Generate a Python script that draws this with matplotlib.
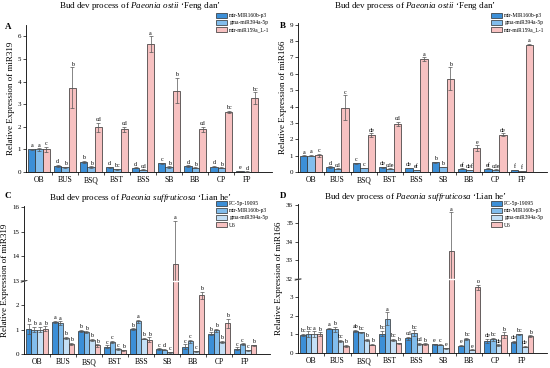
import matplotlib
matplotlib.use("Agg")
import matplotlib.pyplot as plt
import numpy as np

plt.rcParams['font.family'] = ['Liberation Serif', 'DejaVu Serif']
plt.rcParams['mathtext.fontset'] = 'custom'
plt.rcParams['mathtext.rm'] = 'Liberation Serif'
plt.rcParams['mathtext.it'] = 'Liberation Serif:italic'

stages = ['OB', 'BUS', 'BSQ', 'BST', 'BSS', 'SB', 'BB', 'CP', 'FP']

# panel A - miR319, 'Feng dan'
a_names = ['mir-MIR160b-p3', 'gma-miR394a-5p', 'mtr-miR159a_L-1']
a_vals = [[1.0, 0.28, 0.45, 0.2, 0.18, 0.38, 0.27, 0.23, 0.05],
          [1.0, 0.2, 0.22, 0.13, 0.1, 0.22, 0.18, 0.18, 0.02],
          [1.0, 3.73, 1.98, 1.88, 5.65, 3.6, 1.88, 2.65, 3.27]]
a_errs = [[0.02, 0.04, 0.03, 0.02, 0.02, 0.04, 0.03, 0.03, 0.01],
          [0.05, 0.03, 0.03, 0.02, 0.02, 0.03, 0.02, 0.02, 0.01],
          [0.1, 0.9, 0.2, 0.12, 0.35, 0.55, 0.12, 0.04, 0.25]]
a_labs = [['a', 'd', 'b', 'd', 'd', 'c', 'd', 'd', 'e'],
          ['a', 'b', 'b', 'bc', 'cd', 'b', 'b', 'b', 'd'],
          ['c', 'b', 'cd', 'cd', 'a', 'b', 'cd', 'bc', 'bc']]

# panel B - miR166, 'Feng dan'
b_vals = [[1.0, 0.3, 0.52, 0.28, 0.25, 0.6, 0.2, 0.2, 0.12],
          [1.0, 0.2, 0.25, 0.2, 0.12, 0.3, 0.12, 0.15, 0.05],
          [1.02, 3.93, 2.25, 2.93, 6.9, 5.7, 1.45, 2.27, 7.78]]
b_errs = [[0.02, 0.04, 0.03, 0.03, 0.02, 0.03, 0.02, 0.02, 0.02],
          [0.04, 0.03, 0.02, 0.02, 0.02, 0.02, 0.02, 0.02, 0.01],
          [0.1, 0.75, 0.12, 0.15, 0.1, 0.7, 0.18, 0.1, 0.05]]
b_labs = [['a', 'd', 'c', 'de', 'de', 'b', 'ef', 'ef', 'f'],
          ['a', 'cd', 'c', 'cde', 'ef', 'b', 'def', 'cde', 'f'],
          ['c', 'c', 'de', 'cd', 'a', 'b', 'e', 'de', 'a']]

# panel C - miR319, 'Lian he'
c_names = ['PC-5p-19095', 'mtr-MIR160b-p3', 'gma-miR394a-5p', 'U6']
c_vals = [[1.03, 1.3, 0.95, 0.3, 1.02, 0.2, 0.3, 0.83, 0.22],
          [1.0, 1.25, 0.9, 0.5, 1.33, 0.18, 0.52, 0.97, 0.4],
          [1.0, 0.65, 0.58, 0.2, 0.63, 0.08, 0.12, 0.5, 0.15],
          [1.03, 0.42, 0.35, 0.15, 0.58, 13.68, 2.4, 1.25, 0.35]]
c_errs = [[0.2, 0.05, 0.05, 0.05, 0.03, 0.03, 0.1, 0.05, 0.05],
          [0.1, 0.08, 0.03, 0.05, 0.08, 0.02, 0.05, 0.06, 0.03],
          [0.1, 0.05, 0.03, 0.03, 0.03, 0.02, 0.02, 0.05, 0.02],
          [0.1, 0.05, 0.05, 0.03, 0.1, 1.75, 0.15, 0.18, 0.03]]
c_labs = [['b', 'a', 'b', 'c', 'b', 'c', 'c', 'b', 'c'],
          ['b', 'a', 'b', 'c', 'a', 'd', 'c', 'b', 'c'],
          ['a', 'b', 'b', 'c', 'b', 'c', 'c', 'b', 'c'],
          ['b', 'b', 'b', 'b', 'b', 'a', 'b', 'b', 'b']]

# panel D - miR166, 'Lian he'
d_vals = [[0.97, 1.32, 1.2, 1.05, 0.8, 0.48, 0.4, 0.65, 0.6],
          [1.02, 1.28, 1.13, 1.85, 1.07, 0.45, 0.77, 0.75, 1.0],
          [1.02, 0.65, 0.72, 0.7, 0.48, 0.25, 0.17, 0.42, 0.35],
          [1.02, 0.4, 0.45, 0.52, 0.47, 33.5, 3.55, 0.97, 0.9]]
d_errs = [[0.05, 0.05, 0.05, 0.15, 0.08, 0.03, 0.03, 0.1, 0.05],
          [0.15, 0.12, 0.03, 0.35, 0.15, 0.03, 0.05, 0.08, 0.05],
          [0.15, 0.05, 0.05, 0.05, 0.05, 0.03, 0.02, 0.05, 0.05],
          [0.1, 0.05, 0.03, 0.03, 0.05, 2.1, 0.15, 0.15, 0.05]]
d_labs = [['bc', 'a', 'ab', 'bc', 'cd', 'e', 'e', 'de', 'de'],
          ['bc', 'b', 'bc', 'a', 'bc', 'c', 'bc', 'bc', 'bc'],
          ['a', 'bc', 'b', 'bc', 'cd', 'e', 'e', 'de', 'de'],
          ['b', 'b', 'b', 'b', 'b', 'a', 'b', 'b', 'b']]

dark = '#3c8fd7'
mid = '#82bdec'
light = '#c4e0f6'
pink = '#f7c1c1'


def make_scale(lo, hi):
    gap = hi - lo
    def fwd(y):
        y = np.asarray(y, dtype=float)
        return np.where(y <= lo, y, np.where(y >= hi, y - gap, lo))
    def inv(t):
        t = np.asarray(t, dtype=float)
        return np.where(t <= lo, t, t + gap)
    return fwd, inv


def draw_panel(ax, vals, errs, labs, colors, names, ylabel, ymax, yticks,
               brk=None):
    n = len(vals)
    x = np.arange(len(stages))
    w = 0.85 / n
    if brk is not None:
        ax.set_yscale('function', functions=make_scale(*brk))
    for i in range(n):
        pos = x - 0.425 + w * (i + 0.5)
        ax.bar(pos, vals[i], w, color=colors[i], edgecolor='#2b2b2b',
               linewidth=0.5, label=names[i], zorder=2)
        ax.errorbar(pos, vals[i], yerr=errs[i], fmt='none', ecolor='#555555',
                    elinewidth=0.5, capsize=1.2, capthick=0.5, zorder=3)
        for j in range(len(stages)):
            ax.annotate(labs[i][j], (pos[j], vals[i][j] + errs[i][j]),
                        xytext=(0, 0.5), textcoords='offset points',
                        ha='center', va='bottom', fontsize=4.3, zorder=4)
    ax.set_xlim(-0.5, 8.95)
    ax.set_ylim(0, ymax)
    ax.set_yticks(yticks)
    ax.set_yticklabels([str(t) for t in yticks])
    ax.set_xticks(x)
    ax.set_xticklabels(stages)
    ax.set_xticks(x[:-1] + 0.5, minor=True)
    ax.tick_params(axis='x', which='major', length=0, labelsize=5.5, pad=3)
    ax.tick_params(axis='x', which='minor', length=2, width=0.5)
    ax.tick_params(axis='y', length=2, width=0.5, labelsize=5, pad=1.5)
    ax.spines['top'].set_visible(False)
    ax.spines['right'].set_visible(False)
    ax.spines['left'].set_linewidth(0.6)
    ax.spines['bottom'].set_linewidth(0.6)
    ax.set_ylabel(ylabel, fontsize=6.5, labelpad=2)
    if brk is not None:
        lo = brk[0]
        ax.axhspan(lo - 0.02, lo + 0.04, color='white', zorder=5)
        # small break marks on the axis
        tr = ax.get_yaxis_transform()
        for dy in (-0.01, 0.05):
            ax.plot([-0.012, 0.012], [lo + dy - 0.06, lo + dy + 0.06],
                    transform=tr, color='#333333', lw=0.5, clip_on=False,
                    zorder=6)


fig = plt.figure(figsize=(5.5, 3.68), dpi=100)
W, H = 550.0, 368.0


def add_axes(l, r, b, t):
    return fig.add_axes([l / W, 1 - b / H, (r - l) / W, (b - t) / H])


axA = add_axes(26, 272, 172, 25)
axB = add_axes(298, 547, 172, 23)
axC = add_axes(24, 270, 354, 206)
axD = add_axes(298, 547, 353, 204)

draw_panel(axA, a_vals, a_errs, a_labs, [dark, mid, pink], a_names,
           'Relative Expression of miR319', 6.5, [0, 1, 2, 3, 4, 5, 6])
draw_panel(axB, b_vals, b_errs, b_labs, [dark, mid, pink], a_names,
           'Relative Expression of miR166', 9.1, list(range(10)))
draw_panel(axC, c_vals, c_errs, c_labs, [dark, mid, light, pink], c_names,
           'Relative Expression of miR319', 16.05, [0, 1, 2, 13, 14, 15, 16],
           brk=(3, 13))
draw_panel(axD, d_vals, d_errs, d_labs, [dark, mid, light, pink], c_names,
           'Relative Expression of miR166', 36.05,
           [0, 1, 2, 3, 32, 33, 34, 35, 36], brk=(4, 32))

t1 = "Bud dev process of $\\mathit{Paeonia\\ ostii}$ \u2018Feng dan\u2019"
t2 = "Bud dev process of $\\mathit{Paeonia\\ suffruticosa}$ \u2018Lian he\u2019"
fig.text(140 / W, 1 - 6 / H, t1, ha='center', va='center', fontsize=6.5)
fig.text(415 / W, 1 - 6 / H, t1, ha='center', va='center', fontsize=6.5)
fig.text(140 / W, 1 - 198 / H, t2, ha='center', va='center', fontsize=6.5)
fig.text(415 / W, 1 - 197 / H, t2, ha='center', va='center', fontsize=6.5)

for lab, px, py in [('A', 8, 27), ('B', 283, 26), ('C', 8, 196), ('D', 283, 196)]:
    fig.text(px / W, 1 - py / H, lab, ha='center', va='center', fontsize=6.5,
             fontweight='bold')

for ax, lx, py in [(axA, 216, 13), (axB, 491, 13), (axC, 216, 201), (axD, 491, 201)]:
    ax.legend(loc='upper left', bbox_to_anchor=(lx / W, 1 - py / H),
              bbox_transform=fig.transFigure, frameon=False, fontsize=4,
              handlelength=2.0, handleheight=1.0, labelspacing=0.3,
              handletextpad=0.4, borderpad=0, borderaxespad=0)

fig.savefig('out.png', dpi=100)
